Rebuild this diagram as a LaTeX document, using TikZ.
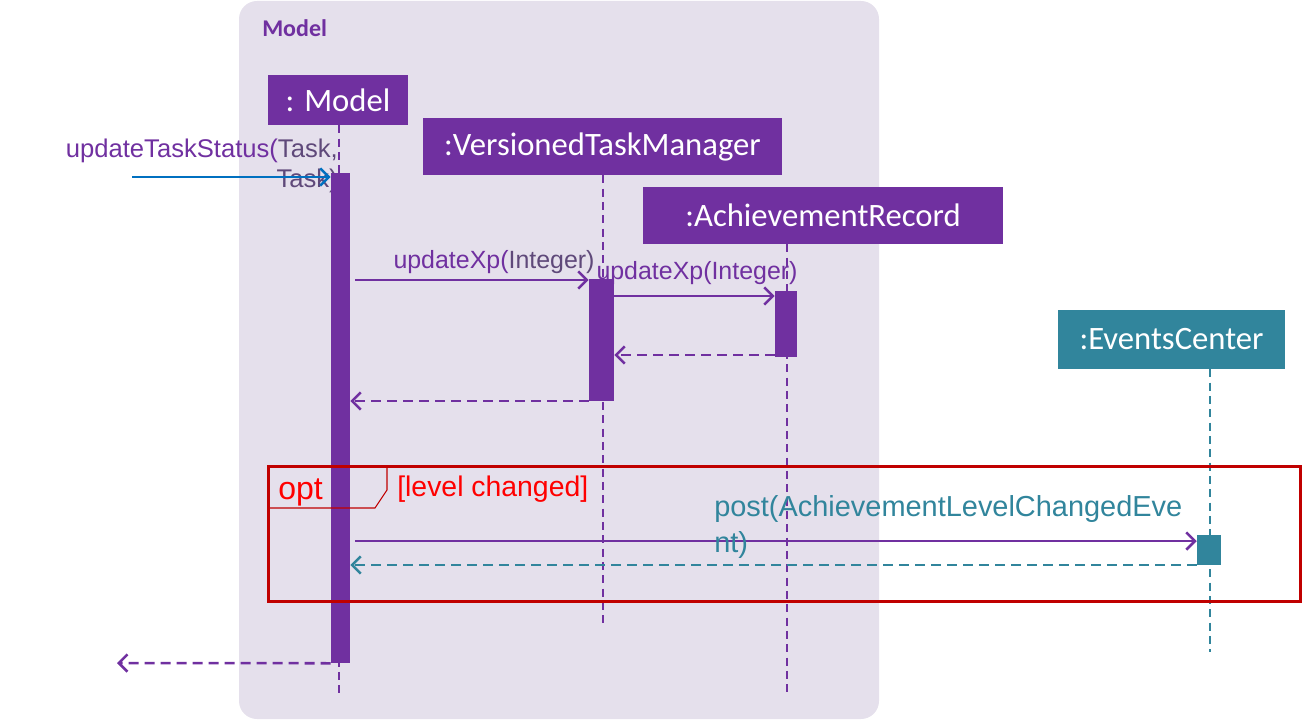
\documentclass[tikz,border=0pt]{standalone}
\usepackage{fontspec}
\setmainfont{Liberation Sans}
\newfontfamily\calfont{Carlito}
\usetikzlibrary{arrows.meta}
\definecolor{purp}{HTML}{7030A0}
\definecolor{purpgray}{HTML}{5F497A}
\definecolor{teal}{HTML}{31859C}
\definecolor{lav}{HTML}{E5E0EC}
\definecolor{dred}{HTML}{C00000}
\definecolor{bred}{HTML}{FF0000}
\definecolor{blu}{HTML}{0070C0}
\tikzset{
  objbox/.style={fill=purp, draw=none, text=white, font=\calfont\fontsize{24.5}{29}\selectfont, inner sep=0pt},
  actbar/.style={fill=purp, draw=none, inner sep=0pt},
  lifeline/.style={purp, line width=2.1pt, dash pattern=on 6pt off 4pt},
  msg/.style={purp, line width=1.9pt, -{Straight Barb[length=6.5pt,width=13pt,line width=1.9pt]}},
  ret/.style={purp, line width=1.9pt, dash pattern=on 7.5pt off 4.5pt, -{Straight Barb[length=6.5pt,width=13pt,line width=1.9pt]}},
  msglabel/.style={font=\fontsize{18.7}{22}\selectfont, text=purp, inner sep=0pt},
}
\begin{document}
\begin{tikzpicture}[x=0.75pt, y=-0.75pt]
\useasboundingbox (0,0) rectangle (1302,720);
% package background
\fill[lav, rounded corners=13.5pt] (239,1) rectangle (879,719);
\node[anchor=base west, text=purp, font=\calfont\bfseries\fontsize{18}{22}\selectfont, inner sep=0pt] (pkg) at (262,37) {Model};

% object boxes
\node[objbox, minimum width=105pt, minimum height=37.5pt] (model) at (338,100) {: Model};
\node[objbox, minimum width=269.25pt, minimum height=42.75pt] (vtm) at (602.5,146.5) {:VersionedTaskManager};
\node[objbox, minimum width=270pt, minimum height=42.75pt] (ar) at (823,215.5) {:AchievementRecord};
\node[objbox, fill=teal, minimum width=170.25pt, minimum height=44.25pt] (ec) at (1171.5,339.5) {:EventsCenter};

% lifeline ends
\coordinate (modelend) at (339,695);
\coordinate (vtmend) at (603,625);
\coordinate (arend) at (787,695);
\coordinate (ecend) at (1210,652);
\draw[lifeline] (model.south -| modelend) -- (modelend);
\draw[lifeline] (vtm.south -| vtmend) -- (vtmend);
\draw[lifeline] (ar.south -| arend) -- (arend);
\draw[lifeline, teal] (ec.south -| ecend) -- (ecend);

% incoming label (behind activation bar)
\node[msglabel, anchor=north east, align=right, font=\fontsize{19.2}{22.5}\selectfont] (inlabel) at (338,139) {updateTaskStatus(\textcolor{purpgray}{Task,}\\\textcolor{purpgray}{Task)}};

% activation bars
\node[actbar, minimum width=14.25pt, minimum height=367.5pt] (mact) at (340.5,418) {};
\node[actbar, minimum width=18.75pt, minimum height=91.5pt] (vact) at (601.5,340) {};
\node[actbar, minimum width=16.5pt, minimum height=49.5pt] (aact) at (786,324) {};

% opt frame
\draw[dred, line width=2.25pt] (268,466) rectangle (1300,601);
\draw[dred, line width=0.8pt] (268,508) -- (375,508) -- (387,490) -- (387,466);
\node[anchor=base west, text=bred, font=\fontsize{24}{28}\selectfont, inner sep=0pt] (opt) at (278,499) {opt};
\node[anchor=base west, text=bred, font=\fontsize{21.3}{25}\selectfont, inner sep=0pt] (guard) at (397,496) {[level changed]};

\node[actbar, fill=teal, minimum width=18pt, minimum height=22.5pt] (eact) at (1209,550) {};

% incoming message
\coordinate (start) at (132,177);
\draw[msg, blu] (start) -- (mact.west |- start);

% updateXp 1
\coordinate (m1) at (355,280);
\draw[msg] (m1) -- (vact.west |- m1);
\node[msglabel, anchor=base] (l1) at (494,268) {updateXp(\textcolor{purpgray}{Integer)}};
% updateXp 2
\draw[msg] (vact.east |- 0,296) -- (aact.west |- 0,296);
\node[msglabel, anchor=base] (l2) at (697,280) {updateXp(Integer)};
% returns
\draw[ret] (aact.west |- 0,355) -- (vact.east |- 0,355);
\draw[ret] (vact.west |- 0,401) -- (mact.east |- 0,401);

% post
\coordinate (m3) at (355,541);
\draw[msg] (m3) -- (eact.west |- m3);
\node[anchor=north west, text=teal, font=\fontsize{21.7}{27}\selectfont, inner sep=0pt, align=left] (l3) at (714,495) {post(AchievementLevelChangedEve\\nt)};
\draw[ret, teal] (eact.west |- 0,565) -- (mact.east |- 0,565);

% final return
\coordinate (endret) at (117,663);
\draw[ret] (mact.south west) -- (endret);
\end{tikzpicture}
\end{document}
